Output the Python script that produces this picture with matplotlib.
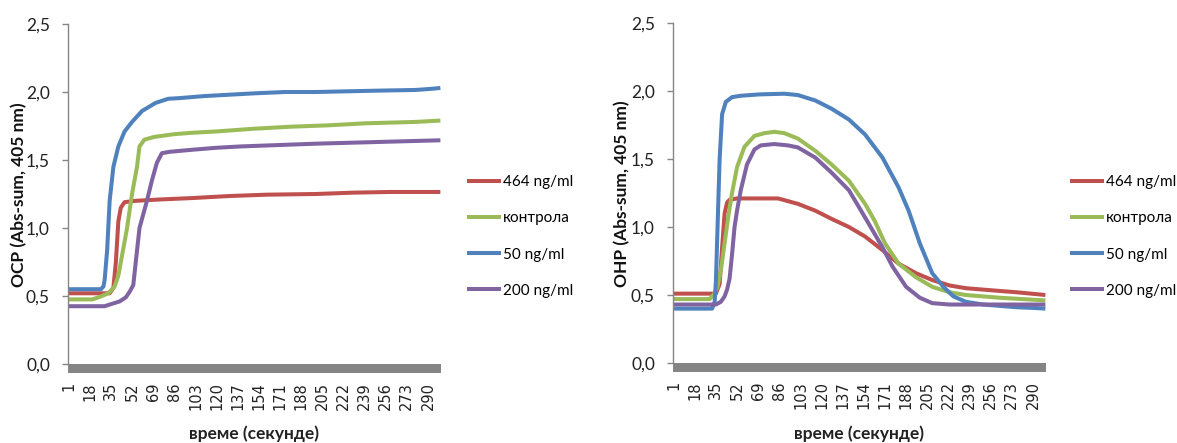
import matplotlib
matplotlib.use("Agg")
import matplotlib.pyplot as plt
from matplotlib.patches import Rectangle
from matplotlib.ticker import FixedLocator, FuncFormatter

# ---------------- data ----------------
x_tick_labels = [1, 18, 35, 52, 69, 86, 103, 120, 137, 154, 171, 188, 205, 222, 239, 256, 273, 290]
y_ticks = [0.0, 0.5, 1.0, 1.5, 2.0, 2.5]
series_names = ["464 ng/ml", "контрола", "50 ng/ml", "200 ng/ml"]
series_colors = ["#C0504D", "#9BBB59", "#4F81BD", "#8064A2"]

# OCP (left chart)
ocp_464_t = [1, 34, 37, 39, 41, 43, 46, 55, 75, 100, 130, 160, 200, 230, 260, 300]
ocp_464_v = [0.52, 0.52, 0.56, 0.75, 1.05, 1.15, 1.19, 1.20, 1.21, 1.22, 1.235, 1.245, 1.25, 1.26, 1.265, 1.265]

ocp_ctrl_t = [1, 20, 25, 33, 38, 41, 44, 48, 52, 56, 58, 62, 70, 86, 100, 120, 150, 180, 210, 240, 280, 300]
ocp_ctrl_v = [0.475, 0.475, 0.49, 0.52, 0.57, 0.65, 0.80, 1.00, 1.25, 1.45, 1.60, 1.65, 1.67, 1.69, 1.70, 1.71, 1.73, 1.745, 1.755, 1.77, 1.78, 1.79]

ocp_50_t = [1, 27, 29, 30, 32, 34, 37, 41, 46, 52, 60, 71, 81, 90, 110, 130, 150, 175, 200, 225, 250, 280, 295, 300]
ocp_50_v = [0.55, 0.55, 0.57, 0.62, 0.84, 1.20, 1.45, 1.60, 1.71, 1.78, 1.86, 1.92, 1.95, 1.955, 1.97, 1.98, 1.99, 2.0, 2.0, 2.005, 2.01, 2.015, 2.025, 2.03]

ocp_200_t = [1, 30, 35, 42, 47, 50, 53, 55, 58, 61, 64, 68, 72, 76, 82, 100, 120, 140, 170, 200, 240, 280, 300]
ocp_200_v = [0.425, 0.425, 0.44, 0.46, 0.49, 0.53, 0.58, 0.75, 1.00, 1.10, 1.20, 1.35, 1.48, 1.55, 1.56, 1.575, 1.59, 1.60, 1.61, 1.62, 1.63, 1.64, 1.645]

# OHP (right chart)
ohp_464_t = [1, 35, 38, 40, 42, 44, 46, 52, 70, 85, 101, 115, 128, 142, 155, 169, 182, 196, 209, 223, 236, 263, 277, 300]
ohp_464_v = [0.51, 0.51, 0.58, 0.85, 1.10, 1.18, 1.20, 1.21, 1.21, 1.21, 1.17, 1.12, 1.06, 1.00, 0.93, 0.83, 0.73, 0.66, 0.61, 0.57, 0.55, 0.53, 0.52, 0.50]

ohp_ctrl_t = [1, 30, 33, 36, 39, 42, 45, 48, 52, 58, 66, 74, 82, 90, 101, 115, 128, 142, 155, 163, 171, 182, 196, 209, 223, 236, 263, 300]
ohp_ctrl_v = [0.47, 0.47, 0.50, 0.55, 0.68, 0.88, 1.08, 1.25, 1.44, 1.59, 1.67, 1.69, 1.70, 1.69, 1.65, 1.56, 1.46, 1.34, 1.17, 1.04, 0.88, 0.73, 0.63, 0.56, 0.52, 0.50, 0.48, 0.46]

ohp_50_t = [1, 32, 34, 35, 36, 37, 38, 40, 43, 48, 55, 70, 90, 101, 115, 128, 142, 155, 169, 182, 190, 199, 209, 218, 226, 236, 250, 263, 277, 290, 300]
ohp_50_v = [0.40, 0.40, 0.45, 0.60, 0.90, 1.20, 1.50, 1.83, 1.92, 1.955, 1.965, 1.975, 1.98, 1.97, 1.93, 1.87, 1.79, 1.68, 1.51, 1.29, 1.12, 0.88, 0.66, 0.56, 0.49, 0.45, 0.43, 0.42, 0.41, 0.405, 0.40]

ohp_200_t = [1, 35, 39, 42, 44, 46, 48, 50, 52, 55, 60, 66, 71, 82, 93, 101, 115, 128, 142, 155, 169, 177, 188, 199, 209, 223, 300]
ohp_200_v = [0.43, 0.43, 0.45, 0.49, 0.54, 0.62, 0.80, 1.00, 1.12, 1.27, 1.46, 1.57, 1.60, 1.61, 1.60, 1.585, 1.51, 1.40, 1.27, 1.07, 0.85, 0.71, 0.56, 0.48, 0.44, 0.43, 0.43]

charts = [
    ("OCP (Abs-sum, 405 nm)",
     [(ocp_464_t, ocp_464_v), (ocp_ctrl_t, ocp_ctrl_v), (ocp_50_t, ocp_50_v), (ocp_200_t, ocp_200_v)]),
    ("OHP (Abs-sum, 405 nm)",
     [(ohp_464_t, ohp_464_v), (ohp_ctrl_t, ohp_ctrl_v), (ohp_50_t, ohp_50_v), (ohp_200_t, ohp_200_v)]),
]
x_label = "време (секунде)"

# ---------------- layout ----------------
W, H = 1177, 443
fig = plt.figure(figsize=(W / 100, H / 100), dpi=100)
fig.patch.set_facecolor("white")

axes_px = [(68, 24, 441, 364), (673, 23, 1046, 363)]   # left, top, right, bottom
ylabel_x = [19, 622]
legend_x = [467, 1070]

for (title, data), (l, t, r, b), ylx, lgx in zip(charts, axes_px, ylabel_x, legend_x):
    ax = fig.add_axes([l / W, 1 - b / H, (r - l) / W, (b - t) / H])
    lines = []
    for (tt, vv), name, col in zip(data, series_names, series_colors):
        ln, = ax.plot(tt, vv, color=col, lw=2.9, solid_capstyle="butt", label=name)
        lines.append(ln)
    ax.set_xlim(0.5, 300.5)
    ax.set_ylim(0, 2.5)
    for s in ["top", "right", "bottom"]:
        ax.spines[s].set_visible(False)
    ax.spines["left"].set_color("#868686")
    ax.spines["left"].set_linewidth(1.0)

    ax.yaxis.set_major_locator(FixedLocator(y_ticks))
    ax.yaxis.set_major_formatter(FuncFormatter(lambda v, p: f"{v:.1f}".replace(".", ",")))
    ax.tick_params(axis="y", direction="out", length=4, width=1, color="#868686",
                   pad=9, labelsize=12.5, labelcolor="#222222")
    for lab in ax.get_yticklabels():
        lab.set_family("Lato")

    ax.set_xticks(x_tick_labels)
    ax.set_xticklabels([str(v) for v in x_tick_labels], rotation=90, fontsize=10.5,
                       family="DejaVu Sans", color="#222222")
    ax.tick_params(axis="x", length=0, pad=13)

    # grey floor band below the plot area
    ax.add_patch(Rectangle((0, -8.5 / (b - t)), 1, 8.5 / (b - t), transform=ax.transAxes,
                           facecolor="#858585", edgecolor="none", clip_on=False))

    fig.text(ylx / W, 1 - ((t + b) / 2 + 1) / H, title, rotation=90, ha="center", va="center",
             fontsize=12.5, fontweight="bold", family="Lato", color="#111111")
    fig.text(((l + r) / 2) / W, 1 - 434 / H, x_label, ha="center", va="center",
             fontsize=12.5, fontweight="bold", family="Lato", color="#222222")

    ax.legend(handles=lines, loc="center left", frameon=False,
              bbox_to_anchor=(lgx / W, 1 - 236.5 / H), bbox_transform=fig.transFigure,
              borderpad=0, borderaxespad=0, handlelength=2.2, handletextpad=0.15,
              labelspacing=1.45, prop={"family": "Lato", "size": 11})

fig.savefig("out.png", dpi=100, facecolor="white")
